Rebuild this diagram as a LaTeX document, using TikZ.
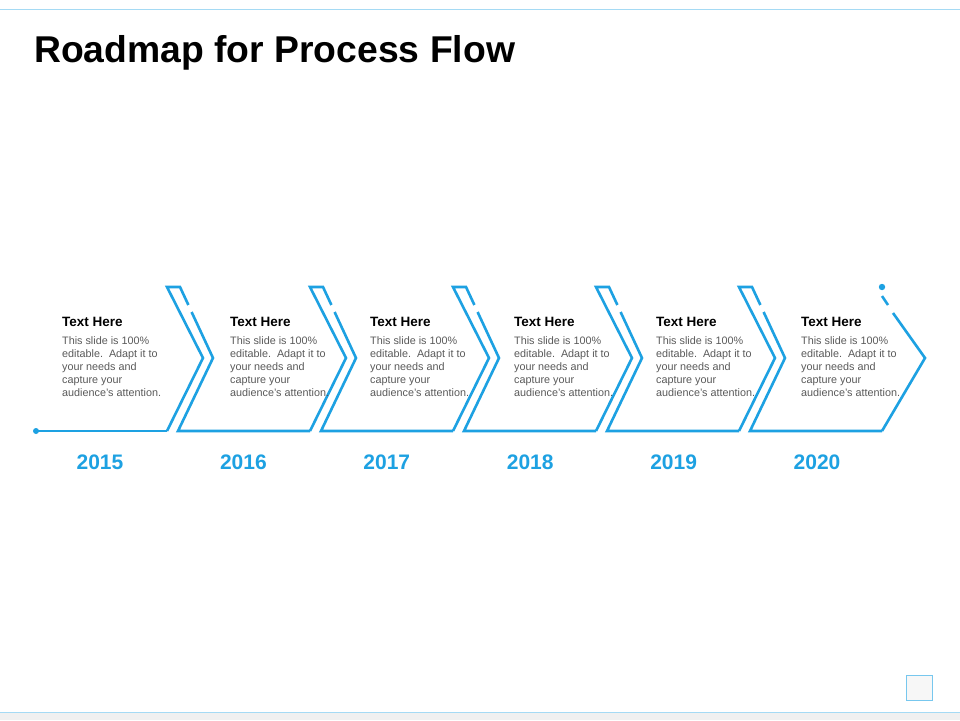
\documentclass[tikz,border=0pt]{standalone}
\usepackage{fontspec}
\setmainfont{Liberation Sans}
\definecolor{roadblue}{RGB}{29,161,226}
\definecolor{bodygray}{RGB}{90,90,90}
\tikzset{
  road/.style={draw=roadblue, line width=2.6pt, line join=miter},
  heading/.style={anchor=north west, inner sep=0pt, font=\fontsize{13.5}{15}\selectfont\bfseries},
  body/.style={anchor=north west, inner sep=0pt, align=left, text=bodygray, font=\fontsize{10.8}{13}\selectfont},
  year/.style={text=roadblue, font=\fontsize{21}{24}\selectfont\bfseries}
}
\begin{document}
\begin{tikzpicture}[x=1pt, y=-1pt]
  \useasboundingbox[fill=white] (0,0) rectangle (960,720);
  % frame lines
  \draw[roadblue!40, line width=0.8pt] (0,9) -- (960,9);
  \fill[black!6] (0,712) rectangle (960,720);
  \draw[roadblue!40, line width=0.8pt] (0,712) -- (960,712);
  \draw[roadblue!60, fill=black!3] (906,675) rectangle (932,700);
  \node[anchor=west, inner sep=0pt, font=\fontsize{37.3}{40}\selectfont\bfseries] (title) at (34,53) {Roadmap for Process Flow};
  % start of the road
  \fill[roadblue] (36,431) circle (3);
  \draw[road] (36,431) -- (167,431);
  % chevrons
  \foreach \i in {0,...,4} {
    \pgfmathsetmacro{\bx}{167+143*\i}
    \draw[road] (\bx,431) -- (\bx+36,358) -- (\bx,287) -- (\bx+13,287) -- (\bx+21.4,305);
    \draw[road] (\bx+24.6,312) -- (\bx+46,358) -- (\bx+11,431) -- (\bx+143,431);
  }
  % last chevron
  \draw[road] (882,431) -- (925,358) -- (893,313);
  \draw[road] (888,305) -- (882,296);
  \fill[roadblue] (882,287) circle (3.2);
  % texts
  \foreach \tx/\yr [count=\k] in {62/2015, 230/2016, 370/2017, 514/2018, 656/2019, 801/2020} {
    \node[heading] (head\k) at (\tx,317) {Text Here};
    \node[body] (body\k) at (\tx,336) {This slide is 100\%\\editable.\ \ Adapt it to\\your needs and\\capture your\\audience's attention.};
    \node[year] (year\k) at ({100+143.4*(\k-1)},462) {\yr};
  }
\end{tikzpicture}
\end{document}
